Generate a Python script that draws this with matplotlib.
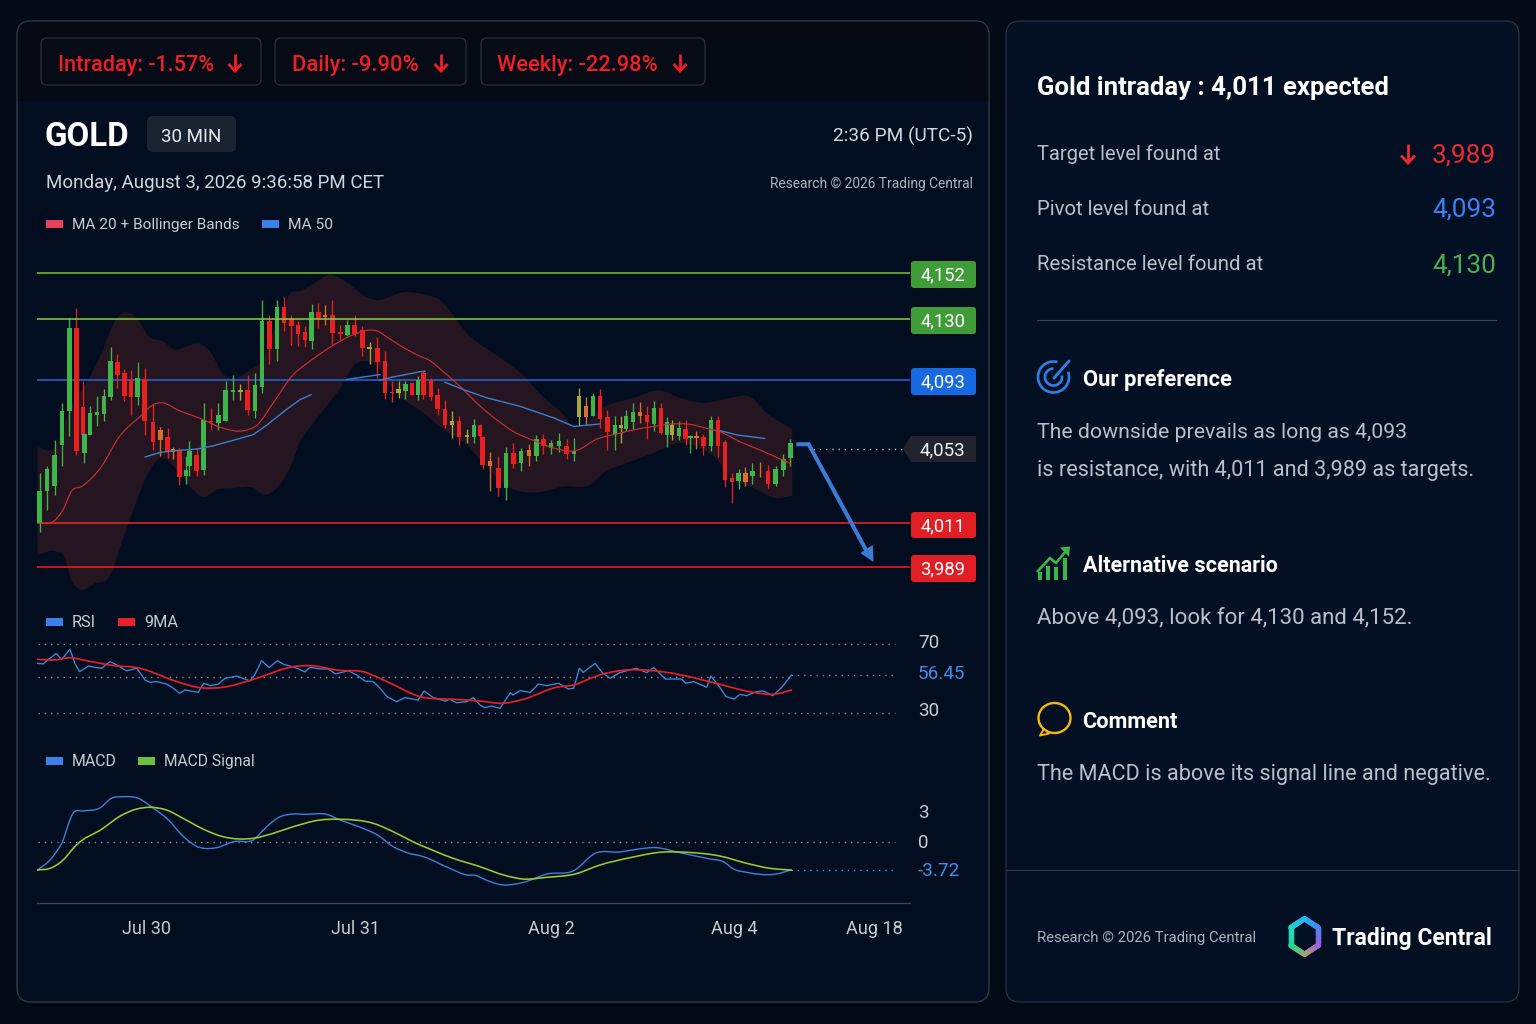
import numpy as np
import matplotlib
matplotlib.use("Agg")
import matplotlib.pyplot as plt
from matplotlib.patches import FancyBboxPatch, Rectangle, Polygon, Arc, PathPatch
from matplotlib.path import Path
from matplotlib.collections import LineCollection
from matplotlib.colors import to_rgb
from matplotlib.transforms import ScaledTranslation

# ---------- data ----------
candle_x = [0,1.06,2.17,3.24,4.3,5.32,6.28,6.48,7.3,8.32,9.33,10.3,11.27,12.28,13.25,14.22,15.23,16.44,17.51,18.57,19.35,20.27,21.23,21.72,22.78,23.8,24.86,25.92,26.99,28.05,29.12,30.18,31.25,32.26,33.33,34.44,35.46,36.52,37.49,38.5,39.47,40.44,41.41,42.47,43.63,44.65,45.71,46.83,47.89,49,50.07,51.13,52.1,53.07,53.99,54.9,
55.68,56.75,57.76,58.83,59.84,60.86,61.97,63.03,63.9,64.29,65.36,66.57,67.68,68.74,69.85,70.97,72.08,73.09,74.16,75.32,76.48,77.5,78.27,79.29,80.26,81.32,82.39,83.5,84.37,85.05,86.06,87.13,88.14,89.11,90.13,91,91.72,92.74,93.75,94.43,95.3,96.32,97.38,98.4,99.41,100.47,101.44,102.41,103.43,104.54,105.7,106.81,107.92,108.94]
candle_high = [4039.2,4043,4058.3,4079.7,4130.5,4135.2,4092.3,4062.2,4077.7,4083.9,4087.8,4113.1,4109.1,4099.8,4099,4103.8,4100.4,4079.3,4065.7,4065,4054,4053.4,4048.6,4057.3,4053.4,4079.7,4076.8,4079.7,4092.3,4096,4090.4,4096,4097.3,4139,4132.1,4139,4140.6,4132.1,4128.7,4126,4137,4137.5,4136.7,4139,4126.7,4129.7,4132.1,4126,4115.9,4119.5,4110.5,4092.3,4092.3,4092.3,4091.3,4095.3,
4098.4,4094.3,4088.4,4081.6,4074.8,4072.3,4064.7,4070.3,4067.6,4060.6,4050.9,4048.6,4054,4056.3,4053.4,4055.9,4061,4061.6,4058.3,4062,4058.9,4059.2,4088.4,4083.2,4085.5,4087.8,4075.8,4071.9,4072.3,4075.8,4079.7,4080.1,4078.1,4080.6,4079.7,4071.5,4069.9,4069,4069.5,4061.2,4063.1,4061.8,4072.3,4071.9,4058.3,4039,4041.3,4042.6,4044.9,4045.5,4043.9,4043.4,4050.2,4058.5]
candle_top = [4028.8,4041.5,4049.6,4074.8,4125,4125,4077.1,4061.8,4073.8,4074.2,4083.9,4104.4,4104.2,4097,4093.3,4094.1,4093.7,4068.6,4063.7,4059.7,4052.8,4052,4041.1,4051.5,4049.2,4069.5,4069.4,4072.9,4086.9,4087.1,4087.1,4087.1,4089.8,4128.7,4128.7,4136,4135.6,4130.5,4126.7,4122,4133.3,4133.3,4131.8,4131.8,4122,4126.7,4126.7,4123.2,4113.1,4112.5,4104.4,4086.3,4087.5,4090.4,4091,4093.3,
4097.3,4092.9,4084,4076.4,4069,4069,4060.8,4067,4067,4059.8,4045.8,4042,4050.5,4050.5,4051.5,4052,4058.5,4058.5,4056.3,4057.2,4054.7,4051.9,4083.6,4077.7,4083.6,4083.6,4071.5,4067,4067,4072.3,4074.2,4074.2,4072.9,4076.7,4076.7,4068.4,4067,4065.1,4064.5,4060.6,4060.6,4059.8,4069.9,4069.9,4056.7,4036.2,4039,4039,4040.4,4040.6,4040.6,4041.6,4047.1,4056.3]
candle_bottom = [4010.8,4028.8,4031.6,4055.3,4074.8,4051.5,4061.2,4050.5,4061.2,4072.5,4073.2,4083.2,4096.3,4083.9,4083.2,4083,4069,4056.9,4058.3,4051.5,4051.3,4036.8,4037.3,4043,4040.1,4040.7,4068.6,4068,4069.4,4086.1,4086.1,4075.4,4074.8,4088.8,4111.9,4111.9,4127.7,4125.7,4121.2,4117.2,4117,4130.2,4131.2,4121.6,4121.2,4120.6,4121.2,4112.5,4111.9,4103.8,4085.5,4085.5,4085.5,4086.5,4084.5,4084.5,
4084.5,4083.2,4076.4,4067,4067,4059.6,4059.8,4059.8,4060.6,4043.9,4043.4,4030.7,4030.7,4044.5,4044.9,4049,4049,4054.7,4053.4,4054.7,4050.2,4050,4071.5,4071.5,4072.3,4070.3,4062.5,4061.2,4065.1,4064.5,4068.4,4071.9,4068.4,4067.6,4062.1,4061.2,4061.2,4060.6,4058.7,4059.2,4059.2,4054.7,4054.7,4054.7,4035.4,4034.3,4034.9,4034.3,4037.3,4040.1,4033.1,4033.1,4040.7,4047.7]
candle_low = [4006.6,4018.4,4026.9,4043,4060.2,4049.6,4051.5,4044.9,4061,4066,4069,4081.2,4088.4,4080.6,4072.9,4078.7,4060.8,4052.4,4048.6,4047.7,4047.1,4032.6,4033.1,4037.3,4037.3,4038.2,4063.7,4063.7,4069,4081.2,4081.2,4072.9,4070.9,4085.5,4103,4104.4,4122.6,4114.5,4113.9,4113.1,4111.9,4124.6,4126.7,4114.5,4117.6,4120,4120,4107.5,4103,4094.3,4082,4080,4082.6,4082,4084,4081.6,
4082,4081.6,4072.9,4065.1,4059.2,4055.3,4056.3,4056.3,4059.8,4041.5,4028.8,4026,4024.1,4042,4040.1,4043.4,4045.8,4050.2,4050.2,4050.9,4047.1,4045.8,4066.4,4067.6,4071.9,4065.1,4052,4052.4,4056.3,4063.1,4064.5,4068,4058.7,4063.1,4061.8,4054,4058.3,4058.3,4055.3,4050.5,4052.8,4049.6,4051.5,4048.3,4031.3,4022,4030.3,4031.6,4033.1,4036.9,4030.7,4031.6,4037.7,4043.4]
candle_tone = ("GGGGGRRGGG" "GGRRRGRROR" "ORGGRGRGGG" "YRGGRGRRRR" "GRORRGRRYR"
               "RRYGRGRRRR" "YRYGRRORGR" "GOGRGGRGYO" "GRRGYGGORG" "RGYGRGORGR" "RRGOGORGGG")

band_upper_x = [-0.3,2.2,4.4,6.8,8.8,11.2,12.6,14.1,15.8,17.9,19.6,21.3,23.3,24.7,26.7,28.1,31,32,34.4,36.3,37.8,39.7,42.1,44.5,47.4,48.9,51.3,52.8,55.2,58.1,62.5,67.2,69.7,73,76,77.4,82.1,86.2,90,92.9,96.3,100.2,103.1,105.5,109.2]
band_upper_y = [4053.8,4053.8,4075.8,4091.3,4107.5,4130.5,4133.2,4130.5,4119.6,4116.5,4111.5,4113.5,4115,4110.5,4096.3,4094.3,4100.4,4103.4,4126.7,4142.1,4143.3,4146.7,4151,4147.5,4140.6,4139,4141.3,4142.8,4142.1,4139,4119.4,4105.4,4097.6,4083.4,4072.8,4065.8,4077.7,4082.6,4086.9,4082.6,4079.7,4082.6,4083.2,4073.8,4064.5]
band_lower_x = [-0.3,2.5,3.7,4.4,5.6,8,10.2,11.7,13.6,15.5,17.5,19.9,21.8,23.7,25.7,28.1,31,32.7,34.4,36.3,37.8,39.7,41.6,44.1,45.5,47.4,49.4,51.3,52.8,55.2,58.6,62,63.9,68.3,72.1,76,80.1,81.8,85.2,89,92.9,96.3,98.3,99.7,103.6,107,109.2]
band_lower_y = [3994.8,3996.5,3993.1,3983.8,3978,3980.5,3984.7,3999,4018.4,4037.3,4047.7,4041.1,4031.6,4025.6,4029.7,4030.7,4030.7,4026.9,4030.7,4042,4057.3,4068,4077.7,4091.3,4101.4,4104.4,4099.3,4087.5,4081.6,4075.5,4064.1,4055.3,4046.8,4030.7,4028.2,4031.6,4033.1,4039.2,4044.9,4050.5,4056.3,4052.4,4046.8,4039.2,4030.7,4025,4026.3]

ma20_x = [0,2,3.4,4.6,6.1,8.8,11.6,14.6,16.5,17.9,19.9,23.7,26.2,30,31.5,33.9,36.8,39.2,41.6,45.5,47.4,48.9,50.4,52.3,55.2,56.4,58.8,61.5,63.4,66.3,68.7,71.6,74.6,77.9,80.8,83.7,86.6,89,91.9,93.9,96.8,98.7,101.6,105,107.5,109]
ma20_y = [4010.8,4011.8,4018.4,4028.8,4031.6,4042,4060.2,4071.9,4078.7,4079.7,4075.8,4070,4065.5,4063.8,4066.6,4079.7,4096.3,4104.4,4111.5,4120.6,4123.2,4123,4119.2,4114,4107.5,4105.4,4097.3,4087.4,4079.7,4069.9,4063.1,4057.9,4053.4,4052,4058.5,4061.6,4064.3,4065.9,4067.4,4067.4,4064.9,4062.9,4057.1,4051.5,4047.1,4044.5]
nan = float("nan")
ma50_x = [15.3,17.5,19.9,22.8,25.2,28.1,31,32.9,35.8,37.8,39.4,nan,44.5,49.4,nan,49.4,51.3,55.2,55.9,nan,58.8,61.5,64.9,69.7,74.6,77.5,81.3,nan,98.7,101.2,105.2]
ma50_y = [4048.3,4050.9,4052,4052.8,4054.7,4057.9,4061.2,4066.6,4075.8,4081.6,4084.5,nan,4093.3,4096.3,nan,4092.9,4094.9,4098,4098.4,nan,4091.7,4087.4,4082.6,4077.7,4070.9,4066,4067.4,nan,4063.5,4061,4059]

level_values = [4152, 4130, 4093, 4011, 3989]
level_labels = ["4,152", "4,130", "4,093", "4,011", "3,989"]
last_price = 4053
arrow_x = [109.8, 111.6, 120.4]
arrow_y = [4055.6, 4055.6, 3994.3]
arrow_head_x = [121, 119.1, 120.9]
arrow_head_y = [3991.4, 3995.8, 3999.9]

rsi_x = [-0.3,0.5,1.3,2.4,3.2,4.4,5.1,5.8,7.1,8,9,10.2,11.2,12.6,14.1,15.3,16,17,18.4,19.4,20.3,21.1,23,23.8,24.7,25.9,26.9,28.6,30.5,31.2,32.2,33.3,34.5,35.4,37,38.5,39.2,40.7,41.9,42.9,44.8,46,47.2,48.4,49.4,50.4,51.8,53,54.9,55.8,57.1,58.8,59.5,60.5,62,62.9,63.9,64.6,65.6,66.8,68.3,68.7,69.7,71.2,72.4,73.6,75.3,76.7,77.5,78.3,78.9,80.6,81.6,82.8,84.2,86.6,88.1,89.1,90.8,93.2,93.7,94.9,96.8,97.4,98.7,99.6,100.8,101.6,102.6,104,105,106.4,107.7,109.1]
rsi_y = [61.55,61.26,63.3,65.9,63.3,67.7,61.55,57.9,60.4,59.8,59.4,62.3,60.8,58.3,59.4,52.9,51.3,51.8,50.1,47.1,43.5,45.9,44.2,50.6,49,49.9,54.1,55.7,52.2,56.45,62.7,59.7,62.7,61.1,59.8,57.8,59.8,59.1,59.1,56.9,58.3,56.45,52.2,51.8,47.1,41.2,37.6,40.5,38.8,45.2,40.5,38.1,39.3,36.9,37.6,40.5,35.3,33.4,34.6,32.9,44,42.3,45.4,44.2,50.1,48.9,50.6,46.6,47.1,59.4,57.6,61.55,57.6,54.1,57.5,59.4,57.5,59.7,53.6,53.6,50.6,51.8,47.8,55.7,47.8,41.2,39.5,42.8,41.9,44.7,45.2,41.9,47.8,56.45]
rsi_ma_x = [-0.3,2,4.4,6.8,11.2,14.1,16.5,19.9,23.3,26.6,31,33.9,36.8,39.5,43.1,47.9,50.4,55.2,60,63.9,67.3,70.2,75,77.5,80.8,84.7,89.1,93,97.8,103.6,106.5,109.1]
rsi_ma_y = [63.3,63,64,62.7,60.4,59.7,57.5,51.8,47.5,47.8,53.4,57.6,60.1,60.5,58.6,56.9,51.8,41.2,39.3,38.1,36.5,39.3,47.8,49.4,55.7,58.5,58.3,56.45,51,44.2,42.8,45.9]
rsi_levels = [70, 55.3, 30]
rsi_last = 56.45

macd_x = [-0.3,1.5,3.2,4.9,6.3,8.8,10.4,12.1,14.3,16.5,18.7,20.4,23.3,25.7,28.1,31,32.7,34.9,36.3,38.7,41.6,43.6,46.9,49.4,51.3,53.3,55.7,59.5,62,63.4,63.9,67.3,70.2,73.6,77.5,80.6,84.2,86.6,89.5,92.9,97.3,99.2,100.7,102.6,106.5,109.1]
macd_y = [-3.72,-2.39,-0.18,2.93,3.1,3.43,4.37,4.53,4.37,3.37,2.2,0.87,-0.75,-0.75,0.03,0.2,1.37,2.53,2.77,2.77,2.77,2.2,1.37,0.53,-0.62,-1.42,-1.95,-3.5,-4.38,-4.47,-4.69,-5.71,-5.36,-4.25,-3.81,-1.51,-1.33,-0.97,-0.75,-1.42,-2.26,-2.61,-3.59,-4.03,-4.3,-3.72]
signal_x = [-0.3,1.5,3.4,5.1,9.2,11.7,14.1,16,18.4,20.8,23.7,26.6,31,33.9,36.8,40.7,43.6,48.4,51.3,55.2,60,63.9,67.3,70.2,73.6,77.7,81.3,85.7,90,93.9,98.7,102.6,106,109.1]
signal_y = [-3.72,-3.5,-2.39,-0.62,1.37,2.6,3.3,3.47,3.2,2.37,1.3,0.53,0.37,0.87,1.53,2.2,2.27,1.87,1.03,-0.4,-2.17,-3.28,-4.38,-4.92,-4.69,-4.25,-3.06,-2.08,-1.37,-1.37,-1.86,-2.83,-3.5,-3.72]
macd_last = -3.72
macd_ticks = [3, 0, -3.72]
macd_tick_labels = ["3", "0", "-3.72"]
rsi_ticks = [70, 56.45, 30]
rsi_tick_labels = ["70", "56.45", "30"]
date_ticks = [15.44, 45.9, 74.2, 100.8, 121.2]
date_labels = ["Jul 30", "Jul 31", "Aug 2", "Aug 4", "Aug 18"]

# ---------- style ----------
FONT = "Roboto"
plt.rcParams["font.family"] = [FONT, "DejaVu Sans"]
W, H = 1536, 1024
BG = "#020A16"; PANEL = "#020E20"; STRIP = "#050913"; BORDER = "#2C3644"
RED = "#F01F26"; GREEN = "#3EA83F"; BLUE = "#3B82F6"; LABEL = "#C6CBD3"; BODY = "#B8BFCA"
TONE = {"G": "#3DB54A", "R": "#E8201F", "O": "#D8702A", "Y": "#A8A83A"}

fig = plt.figure(figsize=(W/100, H/100), dpi=100, facecolor=BG)
bg = fig.add_axes([0, 0, 1, 1], zorder=0)
bg.set_xlim(0, W); bg.set_ylim(H, 0); bg.axis("off")
renderer = fig.canvas.get_renderer()

def ax_px(l, t, r, b):
    a = fig.add_axes([l/W, 1-b/H, (r-l)/W, (b-t)/H], zorder=1)
    a.patch.set_alpha(0)
    for s in a.spines.values():
        s.set_visible(False)
    return a

def t(x, base, s, width, px=18, color=LABEL, weight="normal"):
    tx = bg.text(x, base, s, fontsize=px*0.72, color=color, weight=weight,
                 ha="left", va="baseline", family=[FONT, "DejaVu Sans"])
    ext = tx.get_window_extent(renderer).width
    tx.set_fontsize(px*0.72*width/ext)
    return tx

def rrect(l, tp, r, b, rad, fc="none", ec="none", lw=0.8, z=1):
    p = FancyBboxPatch((l, tp), r-l, b-tp, boxstyle=f"round,pad=0,rounding_size={rad}",
                       fc=fc, ec=ec, lw=lw, zorder=z)
    bg.add_patch(p)
    return p

def down_arrow(x, y0, y1, color=RED, s=6.5):
    bg.plot([x, x], [y0, y1-1], color=color, lw=2, solid_capstyle="butt", zorder=5)
    bg.plot([x-s, x, x+s], [y1-s-0.5, y1, y1-s-0.5], color=color, lw=2,
            solid_joinstyle="miter", solid_capstyle="butt", zorder=5)

def hermite_path(x, y, start=True):
    """Curve segments that pass through every listed point of the series."""
    x = np.asarray(x, float); y = np.asarray(y, float)
    m = np.gradient(y, x)
    verts = [(x[0], y[0])] if start else []
    for k in range(len(x)-1):
        d = (x[k+1]-x[k])/3
        verts += [(x[k]+d, y[k]+m[k]*d), (x[k+1]-d, y[k+1]-m[k+1]*d), (x[k+1], y[k+1])]
    return verts

def curve(a, x, y, color, lw, z):
    v = hermite_path(x, y)
    codes = [Path.MOVETO] + [Path.CURVE4]*(len(v)-1)
    a.add_patch(PathPatch(Path(v, codes), fill=False, ec=color, lw=lw, zorder=z, capstyle="round"))

# ---------- panels ----------
left = rrect(17, 21, 989, 1002, 14, fc=PANEL, ec=BORDER)
strip = Rectangle((17, 21), 972, 80, fc=STRIP, ec="none", zorder=1)
bg.add_patch(strip); strip.set_clip_path(left)
rrect(17, 21, 989, 1002, 14, ec=BORDER, z=2)
rrect(1006, 21, 1519, 1002, 14, fc="#031024", ec=BORDER)
bg.plot([1037, 1496], [319.5, 319.5], color="#3A4554", lw=0.8, zorder=3)
bg.plot([1007, 1519], [870, 870], color="#333E4C", lw=0.8, zorder=3)

# pills
for (l, r, tx, tl, tw, ax_) in [(41, 261, "Intraday: -1.57%", 58, 156, 235),
                                (275, 466, "Daily: -9.90%", 292, 127, 441),
                                (481, 705, "Weekly: -22.98%", 497, 161, 680)]:
    rrect(l, 38, r, 85, 6, fc="#060B16", ec="#2B3340", z=3)
    t(tl, 71, tx, tw, px=22, color=RED, weight=500).set_zorder(5)
    down_arrow(ax_, 54, 71)

t(45, 146, "GOLD", 85, px=32, color="#FFFFFF", weight="bold")
rrect(147, 116, 236, 152, 6, fc="#1A2331", z=3)
t(161, 142, "30 MIN", 61, px=19, color="#E8EBEF").set_zorder(5)
t(833, 142, "2:36 PM (UTC-5)", 140, px=19, color="#D4D8DE")
t(46, 188, "Monday, August 3, 2026 9:36:58 PM CET", 339, px=19, color="#D0D4DB")
t(770, 188, "Research © 2026 Trading Central", 203, px=14, color="#AAB2BD")

def legend(x0, y, label_items):
    for (rx, col, tx, tl, tw) in label_items:
        bg.add_patch(Rectangle((rx, y-4), 17, 8, fc=col, ec="none", zorder=4))
        t(tl, y+5, tx, tw, px=16, color=LABEL)

legend(46, 224, [(46, "#E8405A", "MA 20 + Bollinger Bands", 72, 169), (262, "#3B7FE8", "MA 50", 288, 45)])
legend(46, 622, [(46, "#3B7FE8", "RSI", 72, 24), (118, "#E8202A", "9MA", 144, 34)])
legend(46, 761, [(46, "#3B7FE8", "MACD", 72, 45), (138, "#6CBF45", "MACD Signal", 164, 91)])

# ---------- price chart ----------
def make_scale(vals, pix):
    vals = np.array(vals, float); neg = -np.array(pix, float)
    return (lambda v: np.interp(v, vals, neg), lambda p: np.interp(p, neg, vals))

XMIN, XMAX = -0.39, 126.3
price_f, price_i = make_scale([3900, 3989, 4011, 4053, 4093, 4130, 4152, 4250],
                              [742.4, 566.7, 522.7, 448.7, 380, 319.3, 272.7, 61])
ax = ax_px(37, 240, 910, 610)
ax.set_yscale("function", functions=(price_f, price_i))
ax.set_xlim(XMIN, XMAX); ax.set_ylim(price_i(-610.0), price_i(-240.0))
ax.set_xticks([]); ax.set_yticks([]); ax.minorticks_off()

up = hermite_path(band_upper_x, band_upper_y)
low = hermite_path(band_lower_x[::-1], band_lower_y[::-1])
v_band = up + [low[0]] + low[1:] + [up[0], up[0]]
c_band = ([Path.MOVETO] + [Path.CURVE4]*(len(up)-1) + [Path.LINETO] + [Path.CURVE4]*(len(low)-1)
          + [Path.LINETO, Path.CLOSEPOLY])
ax.add_patch(PathPatch(Path(v_band, c_band), fc="#241520", ec="none", lw=0, zorder=1))

lvl_col = ["#72C832", "#86D040", "#2567D8", "#F0262A", "#F51C24"]
lvl_z = [5, 5, 2, 2, 2]
for v, c, z in zip(level_values, lvl_col, lvl_z):
    ax.plot([XMIN, XMAX], [v, v], color=c, lw=1.1, zorder=z)
cols = [TONE[c] for c in candle_tone]
ax.vlines(candle_x, candle_low, candle_high, colors=cols, lw=0.95, zorder=3)
ax.bar(candle_x, np.array(candle_top)-np.array(candle_bottom), bottom=candle_bottom, width=0.64, color=cols, lw=0, zorder=3.5)
curve(ax, ma20_x, ma20_y, "#C8302F", 0.85, 4)
ax.plot(ma50_x, ma50_y, color="#3B7FCF", lw=1.0, zorder=4)
ax.plot([112.2, 125.2], [last_price, last_price], color="#C8CDD4", lw=1.0, ls=(0, (1, 3.5)), zorder=2)
ax.plot(arrow_x, arrow_y, color="#3D7BD9", lw=2.9, solid_joinstyle="miter", solid_capstyle="butt", zorder=6)
ax.fill(arrow_head_x, arrow_head_y, color="#3D7BD9", lw=0, zorder=6)

# level badges
badges = [(261, 288, "#3F9C38"), (307, 334, "#3F9C38"), (368, 395, "#1668E3"),
          (512, 538, "#E01E24"), (555, 582, "#E01E24")]
for (b0, b1, c), s in zip(badges, level_labels):
    rrect(911, b0, 976, b1, 3, fc=c, z=3)
    t(920.5, (b0+b1)/2+6, s, 45, px=19, color="#FFFFFF").set_zorder(5)
bg.add_patch(Polygon([(903, 449), (911, 436), (976, 436), (976, 462), (911, 462)], fc="#20242E", ec="none", zorder=3))
t(920, 455, "4,053", 46, px=19, color="#F2F3F5").set_zorder(5)

# ---------- RSI ----------
rsi_f, rsi_i = make_scale([0, 30, 56.45, 70, 100], [755, 712.5, 675, 644, 575.4])
ar = ax_px(37, 630, 910, 730)
ar.set_yscale("function", functions=(rsi_f, rsi_i))
ar.set_xlim(XMIN, XMAX); ar.set_ylim(rsi_i(-730.0), rsi_i(-630.0))
ar.set_xticks([]); ar.minorticks_off()
ar.yaxis.tick_right()
ar.set_yticks(rsi_ticks); ar.set_yticklabels(rsi_tick_labels)
ar.tick_params(axis="y", length=0, pad=5.8, labelsize=13.6, labelcolor=LABEL)
ar.get_yticklabels()[1].set_color("#3F8FE8")
for lb in ar.get_yticklabels():
    lb.set_transform(lb.get_transform() + ScaledTranslation(0, 3/100, fig.dpi_scale_trans))
DOT = dict(color="#7E8794", lw=1.0, ls=(0, (1, 3.5)), zorder=1)
BDOT = dict(color="#4A90E2", lw=1.0, ls=(0, (1, 3.5)), zorder=1)
ar.plot([-0.3, 124.1], [rsi_levels[0]]*2, **DOT)
ar.plot([-0.3, 109.1], [rsi_levels[1]]*2, **DOT)
ar.plot([-0.3, 124.1], [rsi_levels[2]]*2, **DOT)
ar.plot([109.1, 124.1], [rsi_last]*2, **BDOT)
ar.plot(rsi_x, rsi_y, color="#3B8AD9", lw=0.95, zorder=3)
curve(ar, rsi_ma_x, rsi_ma_y, "#EA1C24", 1.25, 4)

# ---------- MACD ----------
mac_f, mac_i = make_scale([-10, -3.72, 0, 3, 10], [917.3, 870, 842, 812, 742])
am = ax_px(37, 780, 910, 903)
am.set_yscale("function", functions=(mac_f, mac_i))
am.set_xlim(XMIN, XMAX); am.set_ylim(mac_i(-903.0), mac_i(-780.0))
am.minorticks_off()
am.yaxis.tick_right()
am.set_yticks(macd_ticks); am.set_yticklabels(macd_tick_labels)
am.tick_params(axis="y", length=0, pad=5.8, labelsize=13.6, labelcolor=LABEL)
am.get_yticklabels()[2].set_color("#3F8FE8")
for lb in am.get_yticklabels():
    lb.set_transform(lb.get_transform() + ScaledTranslation(0, 1/100, fig.dpi_scale_trans))
am.set_xticks(date_ticks); am.set_xticklabels(date_labels)
am.tick_params(axis="x", length=0, pad=12.5, labelsize=13, labelcolor=LABEL)
am.spines["bottom"].set_visible(True); am.spines["bottom"].set_color("#3C4654"); am.spines["bottom"].set_linewidth(0.9)
am.plot([-0.3, 124.1], [0, 0], **DOT)
am.plot([109.1, 124.1], [macd_last]*2, **BDOT)
curve(am, macd_x, macd_y, "#3B82DC", 1.0, 3)
curve(am, signal_x, signal_y, "#9CCB2E", 1.15, 4)

# ---------- right panel ----------
t(1037, 95.5, "Gold intraday : 4,011 expected", 352, px=27, color="#FFFFFF", weight=600)
rows = [(160, "Target level found at", 184, "3,989", "#EE2A2E"),
        (215, "Pivot level found at", 173, "4,093", "#3B82F6"),
        (270, "Resistance level found at", 227, "4,130", "#4CAF50")]
for b, s, w, v, c in rows:
    t(1037, b, s, w, px=22, color=BODY)
    t(1432, b+2, v, 64, px=27, color=c)
down_arrow(1408, 144, 163, "#EE2A2E", 7)

t(1083, 386, "Our preference", 149, px=23, color="#FFFFFF", weight=600)
t(1037, 438, "The downside prevails as long as 4,093", 371, px=22, color=BODY)
t(1037, 476, "is resistance, with 4,011 and 3,989 as targets.", 438, px=22, color=BODY)
t(1083, 572, "Alternative scenario", 195, px=23, color="#FFFFFF", weight=600)
t(1037, 623, "Above 4,093, look for 4,130 and 4,152.", 376, px=22, color=BODY)
t(1082.5, 728.5, "Comment", 96, px=23, color="#FFFFFF", weight=600)
t(1037, 780, "The MACD is above its signal line and negative.", 453, px=22, color=BODY)
t(1037, 942, "Research © 2026 Trading Central", 220, px=16, color="#AAB2BD")
t(1332, 945, "Trading Central", 160, px=25, color="#FFFFFF", weight=600)

# icons
IB = "#2F7FE8"
bg.add_patch(Arc((1053.5, 377), 31, 31, theta1=-20, theta2=285, color=IB, lw=1.9, zorder=4))
bg.add_patch(Arc((1053.5, 377), 17, 17, theta1=-10, theta2=270, color=IB, lw=1.9, zorder=4))
bg.plot([1054, 1069], [378, 361], color=IB, lw=2.1, solid_capstyle="round", zorder=4)
IG = "#3BB54A"
for x0, top in [(1040, 572), (1048, 566), (1056, 567), (1065, 558)]:
    bg.add_patch(Rectangle((x0-1.8, top), 3.8, 579.5-top, fc=IG, ec="none", zorder=4))
bg.plot([1038, 1050, 1056, 1066], [571, 558, 563, 551], color=IG, lw=1.9, zorder=4)
bg.add_patch(Polygon([(1070, 546.5), (1060, 547.5), (1069, 557)], fc=IG, ec="none", zorder=4))
IY = "#F5B90F"
bg.add_patch(Arc((1054.5, 718), 32, 30, theta1=0, theta2=360, color=IY, lw=1.7, zorder=4))
bg.add_patch(Polygon([(1044, 729), (1040, 735.5), (1049, 733.5)], fc="#031024", ec=IY, lw=1.4, joinstyle="round", zorder=5))

# logo ring
cx, cy = 1304.5, 936.5
stops = [(0, "#25B0F2"), (1, "#3F8CF0"), (2, "#9C5CE6"), (3, "#A8A070"), (4, "#1FD890"), (5, "#1FDCC0"), (6, "#25B0F2")]
ang = np.radians([-90, -30, 30, 90, 150, 210, 270])
rx, ry = 15.2, 17.8
vx = cx + rx/np.cos(np.radians(30))*np.cos(ang)*0.9; vy = cy + ry*np.sin(ang)
segs, scol = [], []
for k in range(6):
    c0, c1 = np.array(to_rgb(stops[k][1])), np.array(to_rgb(stops[k+1][1]))
    for u in np.linspace(0, 1, 12, endpoint=False):
        v = u + 1/12
        segs.append([(vx[k]+(vx[k+1]-vx[k])*u, vy[k]+(vy[k+1]-vy[k])*u),
                     (vx[k]+(vx[k+1]-vx[k])*v, vy[k]+(vy[k+1]-vy[k])*v)])
        scol.append(c0+(c1-c0)*u)
bg.add_collection(LineCollection(segs, colors=scol, linewidths=3.9, capstyle="round", zorder=4))

fig.savefig("out.png", dpi=100, facecolor=BG)
